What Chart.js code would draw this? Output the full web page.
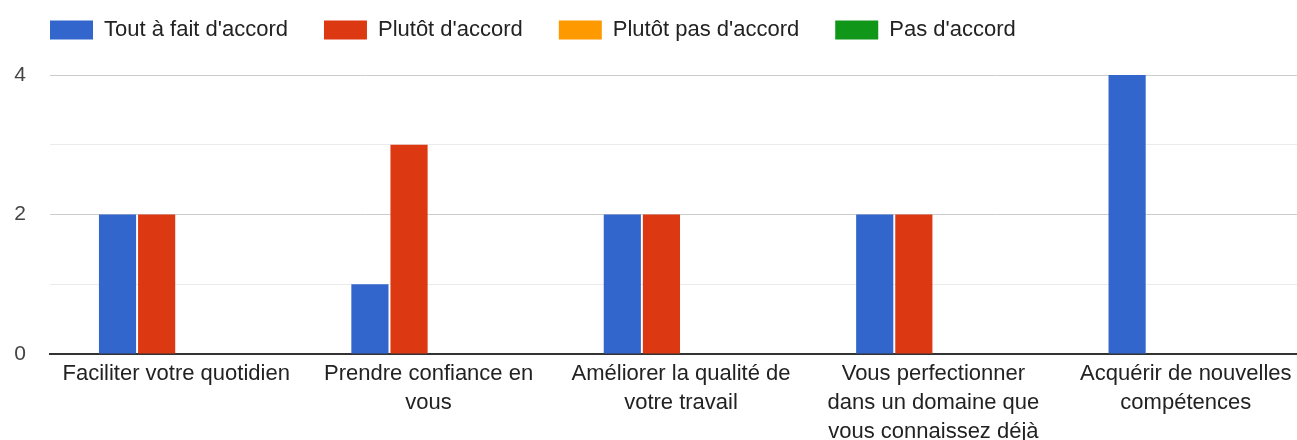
<!DOCTYPE html>
<html lang="fr">
<head>
<meta charset="utf-8">
<title>Réponses</title>
<script src="https://cdn.jsdelivr.net/npm/chart.js@4/dist/chart.umd.min.js"></script>
<style>
  html, body { margin: 0; padding: 0; background: #fff; overflow: hidden; }
  #wrap { position: relative; width: 1297px; height: 440px; overflow: hidden; }
  #chart { position: absolute; left: 0; top: -17px; }
</style>
</head>
<body>
<div id="wrap">
  <canvas id="chart" width="1312" height="457"></canvas>
</div>
<script>
// categories (x axis), already wrapped like the original
const categories = [
    'Faciliter votre quotidien',
    ['Prendre confiance en', 'vous'],
    ['Améliorer la qualité de', 'votre travail'],
    ['Vous perfectionner', 'dans un domaine que', 'vous connaissez déjà'],
    ['Acquérir de nouvelles', 'compétences']
];

const seriesNames = ["Tout à fait d'accord", "Plutôt d'accord", "Plutôt pas d'accord", "Pas d'accord"];
const toutAFait = [2, 1, 2, 2, 4];
const plutot = [2, 3, 2, 2, 0];
const plutotPas = [0, 0, 0, 0, 0];
const pasDaccord = [0, 0, 0, 0, 0];
const yTickLabels = [0, 2, 4];

const colors = ['#3366cc', '#dc3912', '#ff9900', '#109618'];
const FONT = '"Liberation Sans", Arial, sans-serif';

// legend sits higher than Chart.js would place it, so give it a fixed height
const legendSpacer = {
    id: 'legendSpacer',
    beforeInit(chart) {
        const fit = chart.legend.fit;
        chart.legend.fit = function () {
            fit.call(this);
            this.height = 92;
        };
    }
};

const datasets = [toutAFait, plutot, plutotPas, pasDaccord].map((values, i) => ({
    label: seriesNames[i],
    data: values,
    backgroundColor: colors[i],
    borderWidth: 0,
    categoryPercentage: 0.62,
    barPercentage: 0.95
}));

new Chart(document.getElementById('chart').getContext('2d'), {
    type: 'bar',
    data: { labels: categories, datasets },
    plugins: [legendSpacer],
    options: {
        responsive: false,
        animation: false,
        devicePixelRatio: 1,
        layout: { padding: { left: 14, right: 0, top: 0, bottom: 0 } },
        plugins: {
            tooltip: { enabled: false },
            legend: {
                position: 'top',
                align: 'start',
                labels: {
                    boxWidth: 43,
                    boxHeight: 19,
                    padding: 36,
                    color: '#222',
                    font: { family: FONT, size: 22 }
                }
            }
        },
        scales: {
            x: {
                grid: { display: false, drawTicks: false },
                border: { display: true, color: '#333', width: 2 },
                ticks: {
                    color: '#222',
                    padding: 6,
                    maxRotation: 0,
                    autoSkip: false,
                    font: { family: FONT, size: 22, lineHeight: 1.3 }
                },
                afterFit(scale) { scale.height = 86; }
            },
            y: {
                min: 0,
                max: 4,
                border: { display: false },
                grid: {
                    drawTicks: false,
                    color: ctx => {
                        const v = ctx.tick ? ctx.tick.value : 0;
                        if (v === 0) return 'rgba(0,0,0,0)';
                        return yTickLabels.includes(v) ? '#cccccc' : '#ebebeb';
                    }
                },
                ticks: {
                    stepSize: 1,
                    padding: 24,
                    color: '#444',
                    font: { family: FONT, size: 21 },
                    callback: v => yTickLabels.includes(v) ? String(v) : ''
                },
                afterFit(scale) { scale.width = 36; }
            }
        }
    }
});
</script>
</body>
</html>
